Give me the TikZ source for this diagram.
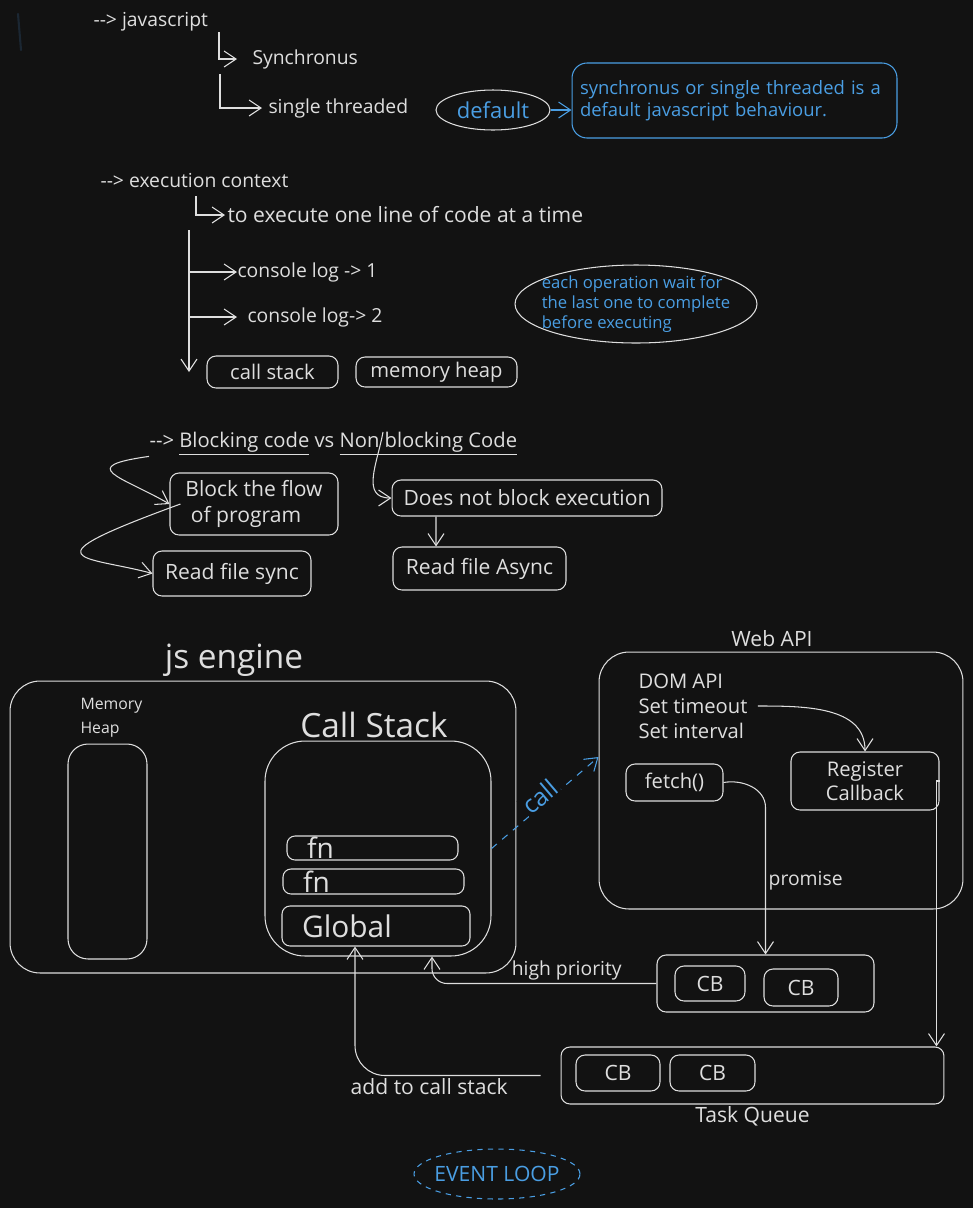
\documentclass[tikz,border=0pt]{standalone}
\usepackage{fontspec}
\setmainfont{Open Sans}
\usetikzlibrary{arrows.meta,positioning,shapes.geometric,calc}
\definecolor{bgdark}{HTML}{121212}
\definecolor{ink}{HTML}{DEDEDE}
\definecolor{jsblue}{HTML}{4A9EE3}
\definecolor{strayblue}{HTML}{1B2733}
\newcommand{\fsz}[2]{\fontsize{#1}{#2}\selectfont}

\begin{document}
\begin{tikzpicture}[
    x=0.02cm, y=-0.02cm, line width=0.6pt,
    txt/.style={text=ink, font=\fsz{11}{13}, inner sep=0},
    lbl/.style={text=ink, font=\fsz{11}{13}, inner sep=1.5pt},
    box/.style={draw=ink, rounded corners=0.18cm, inner sep=0, text=ink,
                font=\fsz{11.5}{14.5}},
    bluebox/.style={draw=jsblue, rounded corners=0.3cm, inner xsep=0.16cm,
                    inner ysep=0, text=jsblue, font=\fsz{10.5}{12.5}},
    stackframe/.style={box, rounded corners=0.16cm, inner xsep=0.4cm, align=left,
                       font=\fsz{16}{16}},
    arr/.style={draw=ink, -{Straight Barb[length=2.4mm,width=3.2mm]}},
    bluearr/.style={arr, draw=jsblue}
]

% Background
\fill[bgdark] (0,0) rectangle (973,1208);
\useasboundingbox (0,0) rectangle (973,1208);
\draw[strayblue, line width=1.2pt, line cap=round] (18,14) -- (21,50);

% javascript
\node[txt, anchor=west] (jsroot) at (93,22) {{-}{-}> javascript};
\node[txt, anchor=west] (sync) at (252,59) {Synchronus};
\node[txt, anchor=west] (single) at (268,108) {single threaded};
\coordinate (jsfork1) at (219,32);
\coordinate (jsfork2) at (220,74);
\draw[arr] (jsfork1) |- ([xshift=-0.3cm]sync.west);
\draw[arr] (jsfork2) |- ([xshift=-0.12cm]single.west);

\node[draw=ink, ellipse, inner sep=0, minimum width=2.28cm, minimum height=0.8cm,
      text=jsblue, font=\fsz{12.5}{14}] (dflt) at (493,110) {default};
\node[bluebox, text width=6.18cm, align=left, minimum height=1.5cm] (dfltnote)
    at (734.5,100.5) {synchronus or single threaded is a\\default javascript behaviour.};
\draw[bluearr] (dflt.east) -- (dflt.east -| dfltnote.west);

% Execution context
\node[txt, anchor=west] (ctx) at (100,180) {{-}{-}> execution context};
\node[txt, anchor=west, font=\fsz{12}{13}] (oneline) at (227,215) {to execute one line of code at a time};
\coordinate (ctxfork) at (196,196);
\draw[arr] (ctxfork) |- ([xshift=-0.04cm]oneline.west);

\node[txt, anchor=west] (log1) at (237,272) {console log -> 1};
\node[txt, anchor=west] (log2) at (247,317) {console log-> 2};
\node[box, minimum width=2.62cm, minimum height=0.64cm] (cstack) at (272.5,372) {call stack};
\node[box, minimum width=3.22cm, minimum height=0.6cm] (mheap) at (436.5,372) {memory heap};

\coordinate (flowtop) at (189,230);
\coordinate (flowend) at (189,372);
\draw[arr] (flowtop) -- (flowend);
\draw[arr] (flowtop |- log1.west) -- (log1.west);
\draw[arr] (flowtop |- log2.west) -- ([xshift=-0.2cm]log2.west);

\node[draw=ink, ellipse, minimum width=4.84cm, minimum height=1.56cm,
      label={[text=jsblue, align=left, font=\fsz{9.5}{11.3}]center:each operation wait for\\the last one to complete\\before executing}]
    (waitnote) at (636,304) {};

% Blocking vs non blocking
\node[txt, anchor=west, font=\fsz{11.5}{13}] (blkhead) at (149,444)
    {{-}{-}> \underline{Blocking code} vs \underline{Non blocking Code}};
\node[box, align=left, minimum width=3.36cm, minimum height=1.24cm, font=\fsz{12}{14.5}] (blkflow)
    at (254,504) {Block the flow\\\ of program};
\node[box, minimum width=3.16cm, minimum height=0.9cm, font=\fsz{12}{14}] (rsync) at (232,573.5) {Read file sync};
\node[box, minimum width=5.4cm, minimum height=0.72cm, font=\fsz{12}{14}] (nonblk) at (527,498) {Does not block execution};
\node[box, minimum width=3.46cm, minimum height=0.86cm, font=\fsz{12}{14}] (rasync) at (479.5,568.5) {Read file Async};
\coordinate (nonmark) at (383,432);

\draw[arr] (blkhead.south west) .. controls +(188:1.5cm) and +(150:1.1cm) .. (blkflow.west);
\draw[arr] ([xshift=0.22cm]blkflow.west) .. controls +(200:3.4cm) and +(165:1.4cm) .. (rsync.west);
\draw[arr] (nonmark) to[out=-100,in=180,looseness=1.2] (nonblk.west);
\draw[arr] ([xshift=-1.82cm]nonblk.south) -- ([xshift=-0.87cm]rasync.north);

% js engine
\node[text=ink, font=\fsz{19}{20}] (jseng) at (234,660) {js engine};
\node[box, minimum width=10.12cm, minimum height=5.84cm, rounded corners=0.6cm] (engine) at (263,827) {};
\node[txt, font=\fsz{9}{13.6}, align=left, anchor=north west] (heaplbl) at (80,698) {Memory\\Heap};
\node[box, minimum width=1.58cm, minimum height=4.3cm, rounded corners=0.4cm] (heap) at (107.5,851.5) {};
\node[text=ink, font=\fsz{19}{22}] (stacklbl) at (374,725) {Call Stack};
\node[box, minimum width=4.52cm, minimum height=4.3cm, rounded corners=0.8cm] (stack) at (378,848.5) {};
\node[stackframe, minimum width=3.42cm, minimum height=0.48cm, text width=2.62cm] (fn1) at (372.5,848) {fn};
\node[stackframe, minimum width=3.62cm, minimum height=0.5cm, text width=2.82cm] (fn2) at (373.5,881.5) {fn};
\node[stackframe, minimum width=3.76cm, minimum height=0.8cm, text width=2.96cm, font=\fsz{17}{18}] (global)
    at (376,926) {Global};

% Web API
\node[text=ink, font=\fsz{12}{13}] (weblbl) at (772,639) {Web API};
\node[box, minimum width=7.28cm, minimum height=5.14cm, rounded corners=0.6cm] (webapi) at (781,780.5) {};
\node[txt, font=\fsz{11.5}{13}, anchor=west] (domapi) at (638,681) {DOM API};
\node[txt, font=\fsz{11.5}{13}, anchor=west] (settimeout) at (638,706) {Set timeout};
\node[txt, font=\fsz{11.5}{13}, anchor=west] (setinterval) at (638,731) {Set interval};
\node[box, minimum width=1.94cm, minimum height=0.74cm, font=\fsz{11.5}{13}] (fetch) at (674.5,782.5) {fetch()};
\node[box, align=center, minimum width=2.96cm, minimum height=1.16cm, font=\fsz{11.5}{13.5}] (regcb)
    at (865,781) {Register\\Callback};
\draw[arr] ([xshift=0.2cm]settimeout.east) to[out=0,in=90] (regcb.north);

\draw[bluearr, dash pattern=on 4pt off 4pt] (stack.east) --
    node[midway, sloped, above=-2pt, fill=bgdark, inner sep=1pt, text=jsblue, font=\fsz{14}{14}] {call}
    ([yshift=0.47cm]webapi.west);

% Queues
\node[box, minimum width=4.34cm, minimum height=1.14cm] (microq) at (765.5,983.5) {};
\node[box, minimum width=1.4cm, minimum height=0.7cm, font=\fsz{12}{13}] (micb1) at (710,983.5) {CB};
\node[box, minimum width=1.48cm, minimum height=0.74cm, font=\fsz{12}{13}] (micb2) at (801,987.5) {CB};

\node[box, minimum width=7.66cm, minimum height=1.14cm,
      label={[text=ink, font=\fsz{12}{13}, inner sep=1pt]below:Task Queue}] (taskq) at (752.5,1075.5) {};
\node[box, minimum width=1.68cm, minimum height=0.72cm, font=\fsz{12}{13}] (tqcb1) at (618,1073) {CB};
\node[box, minimum width=1.7cm, minimum height=0.72cm, font=\fsz{12}{13}] (tqcb2) at (712.5,1073) {CB};

\draw[arr] (fetch.east) to[out=10,in=90] ([yshift=-0.5cm]fetch.east -| microq.north)
    -- node[lbl, right, pos=0.5] {promise} (microq.north);
\draw[arr] (regcb.east) -| ([xshift=-0.16cm]taskq.north east);
\draw[arr, rounded corners=0.3cm] (microq.west) -| node[lbl, above, pos=0.2] {high priority}
    ([xshift=1.08cm]stack.south);
\draw[arr, rounded corners=0.6cm] ([xshift=-0.4cm]taskq.west) -|
    node[lbl, font=\fsz{12}{13}, below, pos=0.3] {add to call stack} ([xshift=-0.42cm]global.south);

% Event loop
\node[draw=jsblue, dashed, ellipse, minimum width=3.32cm, minimum height=1cm,
      label={[text=jsblue, font=\fsz{12}{13}]center:EVENT LOOP}] (evloop) at (497,1174) {};

\end{tikzpicture}
\end{document}
